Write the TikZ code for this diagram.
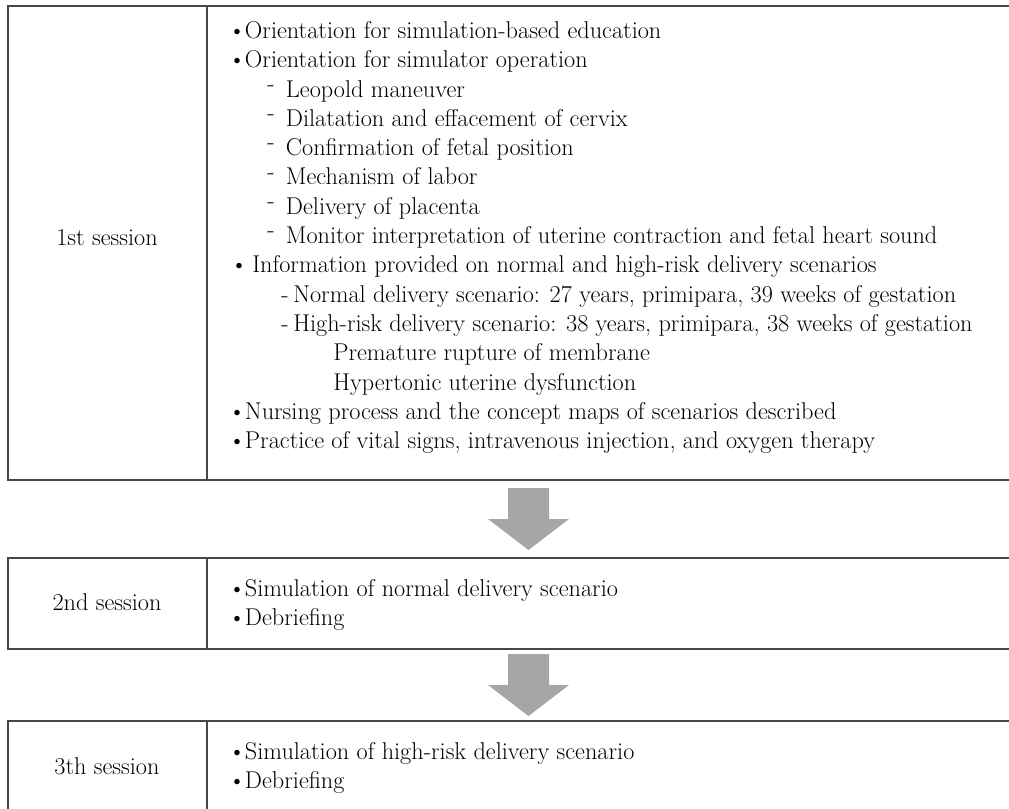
\documentclass[tikz,border=0pt]{standalone}
\usepackage{fontspec}
\newcommand{\bul}{\makebox[12.5pt][l]{\textbullet}}
\newcommand{\hdsh}[1]{\makebox[#1][l]{\raisebox{0.55ex}{-}}}
\tikzset{
  boxline/.style={draw=black!72, line width=1.1pt},
  txt/.style={anchor=base west, inner sep=0pt, font=\fontsize{18.2}{22}\selectfont},
  lbl/.style={anchor=base, inner sep=0pt, font=\fontsize{18.2}{22}\selectfont},
  blockarrow/.style={fill=black!35, draw=none}
}
\begin{document}
\begin{tikzpicture}[x=0.75pt,y=-0.75pt]
\useasboundingbox (0,0) rectangle (1009,809);
% boxes
\draw[boxline] (8,6) rectangle (1020,480);
\draw[boxline] (207,6) -- (207,480);
\draw[boxline] (8,558) rectangle (1020,649);
\draw[boxline] (207,558) -- (207,649);
\draw[boxline] (1020,721) -- (8,721) -- (8,820);
\draw[boxline] (207,721) -- (207,820);
% session labels
\node[lbl] (s1) at (107,245) {1st session};
\node[lbl] (s2) at (107,610) {2nd session};
\node[lbl] (s3) at (107,774) {3th session};
% first session content
\node[txt] (a1) at (228,38.5) {\bul Orientation for simulation-based education};
\node[txt] (a2) at (228,67.8) {\bul Orientation for simulator operation};
\node[txt] (a3) at (267,97.1) {\hdsh{14pt}Leopold maneuver};
\node[txt] (a4) at (267,126.4) {\hdsh{14pt}Dilatation and effacement of cervix};
\node[txt] (a5) at (267,155.7) {\hdsh{14pt}Confirmation of fetal position};
\node[txt] (a6) at (267,185) {\hdsh{14pt}Mechanism of labor};
\node[txt] (a7) at (267,214.3) {\hdsh{14pt}Delivery of placenta};
\node[txt] (a8) at (267,243.6) {\hdsh{14pt}Monitor interpretation of uterine contraction and fetal heart sound};
\node[txt] (a9) at (230,272.9) {\makebox[16.5pt][l]{\textbullet}Information provided on normal and high-risk delivery scenarios};
\node[txt] (a10) at (281,302.2) {\makebox[9pt][l]{-}Normal delivery scenario: 27 years, primipara, 39 weeks of gestation};
\node[txt] (a11) at (281,331.5) {\makebox[9pt][l]{-}High-risk delivery scenario: 38 years, primipara, 38 weeks of gestation};
\node[txt] (a12) at (333,360.8) {Premature rupture of membrane};
\node[txt] (a13) at (333,390.1) {Hypertonic uterine dysfunction};
\node[txt] (a14) at (228,419.4) {\bul Nursing process and the concept maps of scenarios described};
\node[txt] (a15) at (228,448.7) {\bul Practice of vital signs, intravenous injection, and oxygen therapy};
% second session content
\node[txt] (b1) at (228,596) {\bul Simulation of normal delivery scenario};
\node[txt] (b2) at (228,625) {\bul Debriefing};
% third session content
\node[txt] (c1) at (228,759) {\bul Simulation of high-risk delivery scenario};
\node[txt] (c2) at (228,788) {\bul Debriefing};
% block arrows
\fill[blockarrow] (508,488) -- (549,488) -- (549,519) -- (569,519) -- (528.5,550) -- (488,519) -- (508,519) -- cycle;
\fill[blockarrow] (508,654) -- (549,654) -- (549,685) -- (569,685) -- (528.5,716) -- (488,685) -- (508,685) -- cycle;
\end{tikzpicture}
\end{document}
